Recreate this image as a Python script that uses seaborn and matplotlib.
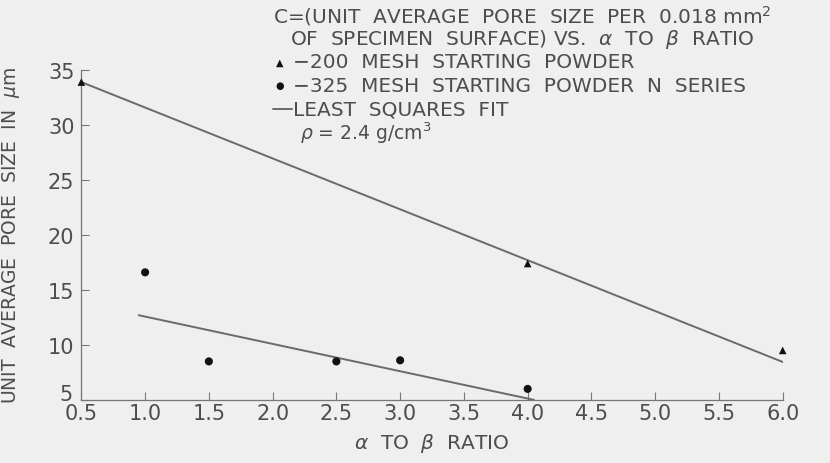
import matplotlib
matplotlib.use("Agg")
import matplotlib.pyplot as plt
import matplotlib.transforms as mtransforms
import seaborn as sns
import pandas as pd

# data
ratio_200 = [0.5, 4.0, 6.0]
pore_200 = [33.9, 17.4, 9.5]
ratio_325 = [1.0, 1.5, 2.5, 3.0, 4.0]
pore_325 = [16.6, 8.5, 8.5, 8.6, 6.0]
# least squares fit lines (end points as drawn)
fit_200_x = [0.5, 6.0]
fit_200_y = [33.9, 8.45]
fit_325_x = [0.95, 4.05]
fit_325_y = [12.7, 5.0]

x_ticks = [0.5, 1.0, 1.5, 2.0, 2.5, 3.0, 3.5, 4.0, 4.5, 5.0, 5.5, 6.0]
y_ticks = [5, 10, 15, 20, 25, 30, 35]

bg = '#efefef'
ink = '#4d4d4d'

sns.set_style("ticks")
plt.rcParams['font.family'] = ['DejaVu Sans']
plt.rcParams['mathtext.fontset'] = 'dejavusans'

fig = plt.figure(figsize=(8.3, 4.64), dpi=100, facecolor=bg)
ax = fig.add_axes([0.098, 0.136, 0.845, 0.711], facecolor=bg)

df200 = pd.DataFrame({'x': ratio_200, 'y': pore_200})
df325 = pd.DataFrame({'x': ratio_325, 'y': pore_325})

sns.lineplot(x=fit_200_x, y=fit_200_y, ax=ax, color='#6a6a6a', lw=1.4)
sns.lineplot(x=fit_325_x, y=fit_325_y, ax=ax, color='#6a6a6a', lw=1.4)
sns.scatterplot(data=df200, x='x', y='y', ax=ax, marker='^', s=30, color='#111111',
                edgecolor='none', clip_on=False, zorder=5)
sns.scatterplot(data=df325, x='x', y='y', ax=ax, marker='o', s=34, color='#111111',
                edgecolor='none', clip_on=False, zorder=5)

ax.set_xlim(0.5, 6.0)
ax.set_ylim(5, 35)
ax.set_xticks(x_ticks)
ax.set_xticklabels([f'{v:.1f}' for v in x_ticks])
ax.set_yticks(y_ticks)
ax.tick_params(direction='in', length=6, width=0.8, colors='#777777',
               labelcolor=ink, labelsize=15, pad=2)
ax.tick_params(axis='y', pad=5)
# lift the lowest y label so it clears the 0.5 label
lab5 = ax.get_yticklabels()[0]
lab5.set_transform(lab5.get_transform() +
                   mtransforms.ScaledTranslation(-1 / 72, 6 / 72, fig.dpi_scale_trans))
for s in ['top', 'right']:
    ax.spines[s].set_visible(False)
for s in ['left', 'bottom']:
    ax.spines[s].set_color('#777777')
    ax.spines[s].set_linewidth(0.9)

ax.set_xlabel(r'$\alpha$  TO  $\beta$  RATIO', fontsize=14.5, color=ink, labelpad=6)
ax.set_ylabel(r'UNIT  AVERAGE  PORE  SIZE  IN  $\mu$m', fontsize=13.5, color=ink)
ax.yaxis.set_label_coords(-0.085, 0.5)

# key block
kx = 273 / 830
fs = 14.5
lines = [
    (kx, 'C=(UNIT  AVERAGE  PORE  SIZE  PER  0.018 mm$^2$', fs),
    (kx + 0.02, 'OF  SPECIMEN  SURFACE) VS.  $\\alpha$  TO  $\\beta$  RATIO', fs),
    (kx + 0.024, '\u2212200  MESH  STARTING  POWDER', fs),
    (kx + 0.024, '\u2212325  MESH  STARTING  POWDER  N  SERIES', fs),
    (kx + 0.024, 'LEAST  SQUARES  FIT', fs),
    (kx + 0.033, r'$\rho$ = 2.4 g/cm$^3$', 13.5),
]
for i, (xx, t, size) in enumerate(lines):
    fig.text(xx, 1 - (16 + 23.5 * i) / 464, t, fontsize=size, color=ink,
             va='center', ha='left')
# key symbols
fig.text(kx + 0.008, 1 - (16 + 23.5 * 2) / 464, '\u25b2', fontsize=7,
         color='#111111', va='center', ha='center')
fig.text(kx + 0.008, 1 - (16 + 23.5 * 3) / 464, '\u25cf', fontsize=7,
         color='#111111', va='center', ha='center')
fig.lines.append(plt.Line2D([kx, kx + 0.023], [1 - (16 + 23.5 * 4) / 464] * 2,
                            transform=fig.transFigure, color='#6a6a6a', lw=1.4))

fig.savefig('out.png', dpi=100, facecolor=bg)
